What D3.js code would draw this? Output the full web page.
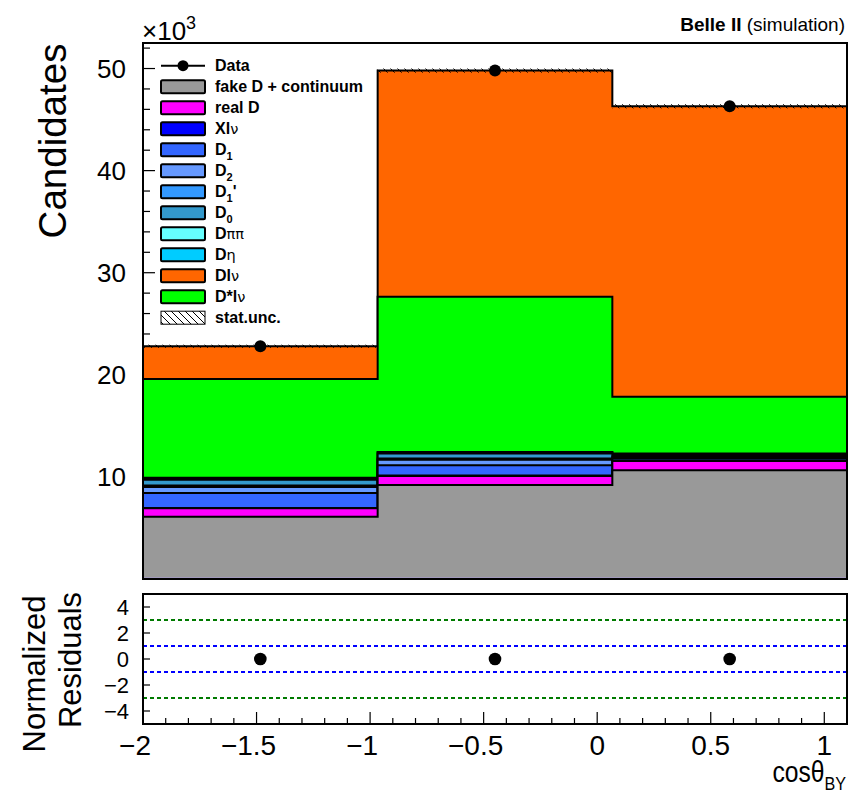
<!DOCTYPE html>
<html>
<head>
<meta charset="utf-8">
<script src="https://cdn.jsdelivr.net/npm/d3@7"></script>
<style>
  body { margin: 0; background: #fff; }
  svg { display: block; }
  text { font-family: "Liberation Sans", Arial, Helvetica, sans-serif; fill: #000; }
</style>
</head>
<body>
<svg id="chart" width="849" height="797"></svg>
<script>
// ---- data (counts in units of 10^3 candidates) ----
const binEdges   = [-2, -0.9667, 0.0667, 1.1];
const fakeD      = [6.10, 9.20, 10.65];
const realD      = [0.83, 0.90, 0.90];
const xlnu       = [0.02, 0.03, 0.05];
const d1         = [1.47, 1.00, 0.20];
const d2         = [0.60, 0.55, 0.15];
const d1prime    = [0.15, 0.12, 0.10];
const d0         = [0.55, 0.50, 0.15];
const dpipi      = [0.10, 0.08, 0.05];
const deta       = [0.10, 0.07, 0.05];
const dstarlnu   = [9.68, 15.20, 5.54];
const dlnu       = [3.20, 22.15, 28.46];
const dataCounts = [22.8, 49.8, 46.3];
const statUnc    = [0.15, 0.20, 0.20];
const residuals  = [0, 0, 0];
const sigmaLines = [-3, -1, 1, 3];

const yTicksMain = [10, 20, 30, 40, 50];
const yTicksRes  = [-4, -2, 0, 2, 4];
const xTicks     = [-2, -1.5, -1, -0.5, 0, 0.5, 1];

// stacking order, bottom to top
const stackKeys = ["fakeD", "realD", "xlnu", "d1", "d2", "d1prime", "d0", "dpipi", "deta", "dstarlnu", "dlnu"];
const seriesValues = { fakeD, realD, xlnu, d1, d2, d1prime, d0, dpipi, deta, dstarlnu, dlnu };
// legend order, top to bottom
const legendKeys = ["fakeD", "realD", "xlnu", "d1", "d2", "d1prime", "d0", "dpipi", "deta", "dlnu", "dstarlnu"];
const labels = {
  fakeD: "fake D + continuum", realD: "real D", xlnu: "Xlν", d1: "D_1", d2: "D_2",
  d1prime: "D_1'", d0: "D_0", dpipi: "Dππ", deta: "Dη", dlnu: "Dlν", dstarlnu: "D*lν"
};
const colors = {
  fakeD: "#999999", realD: "#ff00ff", xlnu: "#0000ff", d1: "#3366ff", d2: "#6699ff",
  d1prime: "#3399ff", d0: "#3399cc", dpipi: "#66ffff", deta: "#00ccff",
  dlnu: "#ff6600", dstarlnu: "#00ff00"
};

// ---- layout ----
const L = 143, R = 847;
const mainTop = 43, mainBot = 579;
const resTop = 594, resBot = 724;

const svg = d3.select("#chart");
const x  = d3.scaleLinear().domain([-2, 1.1]).range([L, R]);
const y  = d3.scaleLinear().domain([0, 52.5]).range([mainBot, mainTop]);
const yr = d3.scaleLinear().domain([-5, 5]).range([resBot, resTop]);

const defs = svg.append("defs");
const hatch = defs.append("pattern").attr("id", "hatch")
  .attr("patternUnits", "userSpaceOnUse").attr("width", 7).attr("height", 7);
hatch.append("path").attr("d", "M-1,-1 L8,8 M-8,-1 L1,8 M6,-1 L15,8")
  .attr("stroke", "#000").attr("stroke-width", 1);

// ---- main panel: y-axis ticks (inside the frame) ----
const gTicks = svg.append("g");
d3.range(2, 52.5, 2).forEach(v => {
  const major = v % 10 === 0;
  gTicks.append("line")
    .attr("x1", L).attr("x2", L + (major ? 12 : 7))
    .attr("y1", y(v)).attr("y2", y(v))
    .attr("stroke", "#000").attr("stroke-width", 1.2);
});

// ---- stacked histograms ----
const rows = dataCounts.map((_, i) => {
  const r = {};
  stackKeys.forEach(k => r[k] = seriesValues[k][i]);
  return r;
});
const stacked = d3.stack().keys(stackKeys)(rows);

function stepPath(tops) {
  let p = `M${x(binEdges[0])},${y(0)}`;
  tops.forEach((t, i) => {
    p += `L${x(binEdges[i])},${y(t)}L${x(binEdges[i + 1])},${y(t)}`;
  });
  p += `L${x(binEdges[binEdges.length - 1])},${y(0)}Z`;
  return p;
}

const gStack = svg.append("g");
stacked.slice().reverse().forEach(s => {
  gStack.append("path")
    .attr("d", stepPath(s.map(d => d[1])))
    .attr("fill", colors[s.key])
    .attr("stroke", "#000")
    .attr("stroke-width", 2)
    .attr("stroke-linejoin", "miter");
});

// statistical uncertainty band on the total
const totals = stacked[stacked.length - 1].map(d => d[1]);
svg.append("g").selectAll("rect").data(totals).join("rect")
  .attr("x", (d, i) => x(binEdges[i]))
  .attr("width", (d, i) => x(binEdges[i + 1]) - x(binEdges[i]))
  .attr("y", (d, i) => y(d + statUnc[i]))
  .attr("height", (d, i) => y(d - statUnc[i]) - y(d + statUnc[i]))
  .attr("fill", "url(#hatch)");

// thin line along the bottom of the stack
svg.append("line")
  .attr("x1", L).attr("x2", R).attr("y1", y(0) - 1).attr("y2", y(0) - 1)
  .attr("stroke", "#a898dc").attr("stroke-width", 1);

// data points
const centers = dataCounts.map((_, i) => (binEdges[i] + binEdges[i + 1]) / 2);
svg.append("g").selectAll("circle").data(dataCounts).join("circle")
  .attr("cx", (d, i) => x(centers[i])).attr("cy", d => y(d)).attr("r", 6)
  .attr("fill", "#000");

// frame
svg.append("rect").attr("x", L).attr("y", mainTop).attr("width", R - L).attr("height", mainBot - mainTop)
  .attr("fill", "none").attr("stroke", "#000").attr("stroke-width", 2);

// y tick labels
svg.append("g").selectAll("text").data(yTicksMain).join("text")
  .attr("x", 126).attr("y", d => y(d)).attr("dy", "0.36em")
  .attr("text-anchor", "end").attr("font-size", 26).text(d => d);

// exponent
const expo = svg.append("text").attr("x", 142).attr("y", 40).attr("font-size", 26);
expo.append("tspan").text("×10");
expo.append("tspan").attr("font-size", 18).attr("dy", -11).text("3");

// axis title
svg.append("text")
  .attr("transform", `translate(66,141) rotate(-90)`)
  .attr("text-anchor", "middle").attr("font-size", 38.5).text("Candidates");

// experiment label
const belle = svg.append("text").attr("x", 845).attr("y", 31).attr("text-anchor", "end").attr("font-size", 19);
belle.append("tspan").attr("font-weight", "bold").text("Belle II");
belle.append("tspan").text(" (simulation)");

// ---- legend ----
function richLabel(sel, str) {
  const parts = [];
  for (let i = 0; i < str.length; i++) {
    const ch = str[i];
    if (ch === "_") { parts.push({ t: str[i + 1], sub: true }); i++; continue; }
    const greek = /[α-ω]/.test(ch);
    const last = parts[parts.length - 1];
    if (last && !last.sub && !!last.greek === greek) last.t += ch;
    else parts.push({ t: ch, greek });
  }
  let shifted = false;
  parts.forEach(p => {
    const ts = sel.append("tspan").text(p.t);
    if (p.sub) { ts.attr("font-size", 11).attr("dy", 5); shifted = true; }
    else {
      if (shifted) { ts.attr("dy", -5); shifted = false; }
      if (p.greek) ts.attr("font-weight", "normal").attr("font-family", "'DejaVu Sans', sans-serif").attr("font-size", 14.5);
    }
  });
}

const legY0 = 65.7, legDy = 21.0;
const boxX = 161, boxW = 44, boxH = 13, textX = 215, legFont = 16;
const gLeg = svg.append("g");
// data entry
gLeg.append("line").attr("x1", boxX).attr("x2", boxX + boxW).attr("y1", legY0).attr("y2", legY0)
  .attr("stroke", "#000").attr("stroke-width", 2);
gLeg.append("circle").attr("cx", boxX + boxW / 2).attr("cy", legY0).attr("r", 5.5).attr("fill", "#000");
gLeg.append("text").attr("x", textX).attr("y", legY0 + 5.5).attr("font-size", legFont)
  .attr("font-weight", "bold").text("Data");

legendKeys.forEach((k, i) => {
  const cy = legY0 + (i + 1) * legDy;
  gLeg.append("rect").attr("x", boxX).attr("y", cy - boxH / 2).attr("width", boxW).attr("height", boxH)
    .attr("rx", 1.5).attr("fill", colors[k]).attr("stroke", "#000").attr("stroke-width", 2);
  const t = gLeg.append("text").attr("x", textX).attr("y", cy + 5.5).attr("font-size", legFont).attr("font-weight", "bold");
  richLabel(t, labels[k]);
});
{
  const cy = legY0 + (legendKeys.length + 1) * legDy;
  gLeg.append("rect").attr("x", boxX).attr("y", cy - boxH / 2).attr("width", boxW).attr("height", boxH)
    .attr("fill", "url(#hatch)").attr("stroke", "#000").attr("stroke-width", 1);
  gLeg.append("text").attr("x", textX).attr("y", cy + 5.5).attr("font-size", legFont)
    .attr("font-weight", "bold").text("stat.unc.");
}

// ---- residual panel ----
const gRes = svg.append("g");
sigmaLines.forEach(s => {
  gRes.append("line").attr("x1", L).attr("x2", R).attr("y1", yr(s)).attr("y2", yr(s))
    .attr("stroke", Math.abs(s) === 3 ? "#007a00" : "#0000ff")
    .attr("stroke-width", 2).attr("stroke-dasharray", "4,3");
});
gRes.selectAll("circle").data(residuals).join("circle")
  .attr("cx", (d, i) => x(centers[i])).attr("cy", d => yr(d)).attr("r", 6.3).attr("fill", "#000");

// residual y ticks
yTicksRes.forEach(v => {
  gRes.append("line").attr("x1", L).attr("x2", L + 7).attr("y1", yr(v)).attr("y2", yr(v))
    .attr("stroke", "#000").attr("stroke-width", 1.2);
});
// x ticks
d3.range(-20, 11, 1).map(v => v / 10).forEach(v => {
  const major = Math.abs(v * 2 - Math.round(v * 2)) < 1e-6;
  gRes.append("line").attr("x1", x(v)).attr("x2", x(v))
    .attr("y1", resBot).attr("y2", resBot - (major ? 12 : 6))
    .attr("stroke", "#000").attr("stroke-width", 1.2);
});

gRes.append("rect").attr("x", L).attr("y", resTop).attr("width", R - L).attr("height", resBot - resTop)
  .attr("fill", "none").attr("stroke", "#000").attr("stroke-width", 2);

const fmt = v => (v < 0 ? "\u2212" : "") + Math.abs(v);
gRes.append("g").selectAll("text").data(yTicksRes).join("text")
  .attr("x", 129).attr("y", d => yr(d)).attr("dy", "0.36em")
  .attr("text-anchor", "end").attr("font-size", 22).text(fmt);

gRes.append("g").selectAll("text").data(xTicks).join("text")
  .attr("x", d => x(d) - (d < 0 ? 8 : 0)).attr("y", 755)
  .attr("text-anchor", "middle").attr("font-size", 28).text(fmt);

// residual axis title
svg.append("text").attr("transform", "translate(45,674) rotate(-90)")
  .attr("text-anchor", "middle").attr("font-size", 31).text("Normalized");
svg.append("text").attr("transform", "translate(81,660) rotate(-90)")
  .attr("text-anchor", "middle").attr("font-size", 31).text("Residuals");

// x axis title
const xt = svg.append("text").attr("transform", "translate(846,782) scale(0.85,1)")
  .attr("text-anchor", "end").attr("font-size", 29);
xt.append("tspan").text("cosθ");
xt.append("tspan").attr("font-size", 19).attr("dy", 8).text("BY");
</script>
</body>
</html>
